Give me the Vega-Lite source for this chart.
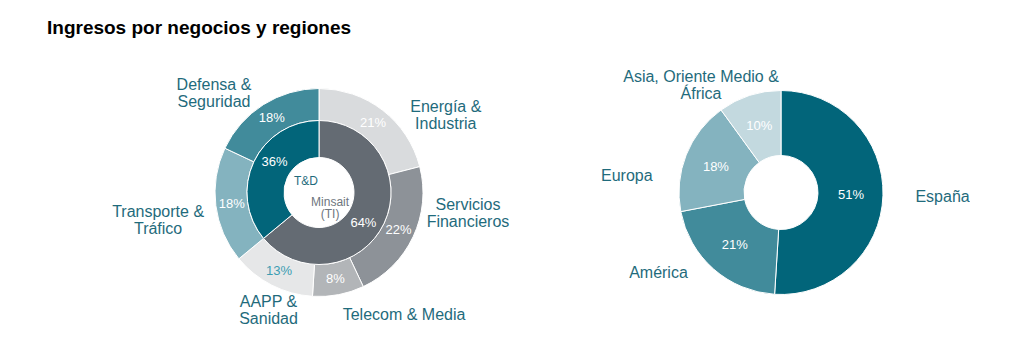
{
  "$schema": "https://vega.github.io/schema/vega-lite/v6.json",
  "padding": {"left": 0, "top": 19, "right": 0, "bottom": 0},
  "background": "white",
  "bounds": "flush",
  "title": {"text": "Ingresos por negocios y regiones", "anchor": "start", "dx": 47, "fontSize": 19, "fontWeight": "bold", "font": "Liberation Sans", "color": "#000000", "offset": 9},
  "config": {"view": {"stroke": null}, "font": "Liberation Sans"},
  "datasets": {
    "negocios": [
      {"cat": "Energía & Industria", "label": "Energía &\nIndustria", "value": 0.21, "orden": 1},
      {"cat": "Servicios Financieros", "label": "Servicios\nFinancieros", "value": 0.22, "orden": 2},
      {"cat": "Telecom & Media", "label": "Telecom & Media", "value": 0.08, "orden": 3},
      {"cat": "AAPP & Sanidad", "label": "AAPP &\nSanidad", "value": 0.13, "orden": 4},
      {"cat": "Transporte & Tráfico", "label": "Transporte &\nTráfico", "value": 0.18, "orden": 5},
      {"cat": "Defensa & Seguridad", "label": "Defensa &\nSeguridad", "value": 0.18, "orden": 6}
    ],
    "segmentos": [
      {"cat": "Minsait (TI)", "label": "Minsait\n(TI)", "value": 0.64, "orden": 1},
      {"cat": "T&D", "label": "T&D", "value": 0.36, "orden": 2}
    ],
    "regiones": [
      {"cat": "España", "label": "España", "value": 0.51, "orden": 1},
      {"cat": "América", "label": "América", "value": 0.21, "orden": 2},
      {"cat": "Europa", "label": "Europa", "value": 0.18, "orden": 3},
      {"cat": "Asia, Oriente Medio & África", "label": "Asia, Oriente Medio &\nÁfrica", "value": 0.10, "orden": 4}
    ]
  },
  "spacing": 0,
  "hconcat": [
    {
      "width": 638,
      "height": 291,
      "layer": [
        {
          "data": {"name": "negocios"},
          "mark": {"type": "arc", "outerRadius": 104, "innerRadius": 72, "stroke": "white", "strokeWidth": 1},
          "encoding": {
            "theta": {"field": "value", "type": "quantitative", "stack": true},
            "order": {"field": "orden", "type": "quantitative"},
            "color": {"field": "cat", "type": "nominal", "legend": null,
              "scale": {"domain": ["Energía & Industria","Servicios Financieros","Telecom & Media","AAPP & Sanidad","Transporte & Tráfico","Defensa & Seguridad","Minsait (TI)","T&D","España","América","Europa","Asia, Oriente Medio & África"],
                        "range": ["#D9DBDD","#8D9298","#B2B5B8","#E6E7E8","#84B3BF","#418B9B","#646B73","#02657A","#02657A","#418B9B","#84B3BF","#C3D9DF"]}}
          }
        },
        {
          "data": {"name": "segmentos"},
          "mark": {"type": "arc", "outerRadius": 72, "innerRadius": 35, "stroke": "white", "strokeWidth": 1},
          "encoding": {
            "theta": {"field": "value", "type": "quantitative", "stack": true},
            "order": {"field": "orden", "type": "quantitative"},
            "color": {"field": "cat", "type": "nominal", "legend": null,
              "scale": {"domain": ["Energía & Industria","Servicios Financieros","Telecom & Media","AAPP & Sanidad","Transporte & Tráfico","Defensa & Seguridad","Minsait (TI)","T&D","España","América","Europa","Asia, Oriente Medio & África"],
                        "range": ["#D9DBDD","#8D9298","#B2B5B8","#E6E7E8","#84B3BF","#418B9B","#646B73","#02657A","#02657A","#418B9B","#84B3BF","#C3D9DF"]}}
          }
        },
        {
          "data": {"name": "negocios"},
          "mark": {"type": "text", "radius": 88, "fontSize": 13, "align": "center", "baseline": "middle"},
          "encoding": {
            "theta": {"field": "value", "type": "quantitative", "stack": true},
            "order": {"field": "orden", "type": "quantitative"},
            "text": {"field": "value", "type": "quantitative", "format": ".0%"},
            "color": {"condition": {"test": "datum.cat === 'AAPP & Sanidad'", "value": "#3C9DB2"}, "value": "#FFFFFF"}
          }
        },
        {
          "data": {"name": "segmentos"},
          "mark": {"type": "text", "radius": 54, "thetaOffset": 0.165, "fontSize": 13, "align": "center", "baseline": "middle", "color": "#FFFFFF"},
          "encoding": {
            "theta": {"field": "value", "type": "quantitative", "stack": true},
            "order": {"field": "orden", "type": "quantitative"},
            "text": {"field": "value", "type": "quantitative", "format": ".0%"}
          }
        },
        {
          "data": {"name": "segmentos"},
          "mark": {"type": "text", "radius": 20, "dx": 5, "dy": -2.5, "fontSize": 12, "align": "center", "baseline": "middle", "color": "#1F6B7C"},
          "encoding": {
            "theta": {"field": "value", "type": "quantitative", "stack": true},
            "order": {"field": "orden", "type": "quantitative"},
            "text": {"condition": {"test": "datum.cat === 'T&D'", "field": "label", "type": "nominal"}, "value": ""}
          }
        },
        {
          "data": {"name": "segmentos"},
          "mark": {"type": "text", "radius": 20, "dx": -7, "dy": 1, "fontSize": 12, "lineBreak": "\n", "lineHeight": 11.5, "align": "center", "baseline": "middle", "color": "#6E767E"},
          "encoding": {
            "theta": {"field": "value", "type": "quantitative", "stack": true},
            "order": {"field": "orden", "type": "quantitative"},
            "text": {"condition": {"test": "datum.cat === 'Minsait (TI)'", "field": "label", "type": "nominal"}, "value": ""}
          }
        },
        {
          "data": {"name": "negocios"},
          "mark": {"type": "text", "radius": 140, "dx": 41, "dy": 25.5, "fontSize": 16, "lineBreak": "\n", "lineHeight": 17, "align": "center", "baseline": "middle", "color": "#1F6B7C"},
          "encoding": {
            "theta": {"field": "value", "type": "quantitative", "stack": true},
            "order": {"field": "orden", "type": "quantitative"},
            "text": {"condition": {"test": "datum.cat === 'Energía & Industria'", "field": "label", "type": "nominal"}, "value": ""}
          }
        },
        {
          "data": {"name": "negocios"},
          "mark": {"type": "text", "radius": 100, "dx": 58.5, "dy": -29.6, "fontSize": 16, "lineBreak": "\n", "lineHeight": 17, "align": "center", "baseline": "middle", "color": "#1F6B7C"},
          "encoding": {
            "theta": {"field": "value", "type": "quantitative", "stack": true},
            "order": {"field": "orden", "type": "quantitative"},
            "text": {"condition": {"test": "datum.cat === 'Servicios Financieros'", "field": "label", "type": "nominal"}, "value": ""}
          }
        },
        {
          "data": {"name": "negocios"},
          "mark": {"type": "text", "radius": 124, "dx": 61.8, "dy": 0.2, "fontSize": 16, "lineBreak": "\n", "lineHeight": 17, "align": "center", "baseline": "middle", "color": "#1F6B7C"},
          "encoding": {
            "theta": {"field": "value", "type": "quantitative", "stack": true},
            "order": {"field": "orden", "type": "quantitative"},
            "text": {"condition": {"test": "datum.cat === 'Telecom & Media'", "field": "label", "type": "nominal"}, "value": ""}
          }
        },
        {
          "data": {"name": "negocios"},
          "mark": {"type": "text", "radius": 120, "dx": 4, "dy": 2.6, "fontSize": 16, "lineBreak": "\n", "lineHeight": 17, "align": "center", "baseline": "middle", "color": "#1F6B7C"},
          "encoding": {
            "theta": {"field": "value", "type": "quantitative", "stack": true},
            "order": {"field": "orden", "type": "quantitative"},
            "text": {"condition": {"test": "datum.cat === 'AAPP & Sanidad'", "field": "label", "type": "nominal"}, "value": ""}
          }
        },
        {
          "data": {"name": "negocios"},
          "mark": {"type": "text", "radius": 140, "dx": -22, "dy": 1.5, "fontSize": 16, "lineBreak": "\n", "lineHeight": 17, "align": "center", "baseline": "middle", "color": "#1F6B7C"},
          "encoding": {
            "theta": {"field": "value", "type": "quantitative", "stack": true},
            "order": {"field": "orden", "type": "quantitative"},
            "text": {"condition": {"test": "datum.cat === 'Transporte & Tráfico'", "field": "label", "type": "nominal"}, "value": ""}
          }
        },
        {
          "data": {"name": "negocios"},
          "mark": {"type": "text", "radius": 140, "dx": -30, "dy": 11.2, "fontSize": 16, "lineBreak": "\n", "lineHeight": 17, "align": "center", "baseline": "middle", "color": "#1F6B7C"},
          "encoding": {
            "theta": {"field": "value", "type": "quantitative", "stack": true},
            "order": {"field": "orden", "type": "quantitative"},
            "text": {"condition": {"test": "datum.cat === 'Defensa & Seguridad'", "field": "label", "type": "nominal"}, "value": ""}
          }
        }
      ]
    },
    {
      "width": 286,
      "height": 291,
      "data": {"name": "regiones"},
      "layer": [
        {
          "mark": {"type": "arc", "outerRadius": 102, "innerRadius": 37, "stroke": "white", "strokeWidth": 1},
          "encoding": {
            "theta": {"field": "value", "type": "quantitative", "stack": true},
            "order": {"field": "orden", "type": "quantitative"},
            "color": {"field": "cat", "type": "nominal", "legend": null,
              "scale": {"domain": ["Energía & Industria","Servicios Financieros","Telecom & Media","AAPP & Sanidad","Transporte & Tráfico","Defensa & Seguridad","Minsait (TI)","T&D","España","América","Europa","Asia, Oriente Medio & África"],
                        "range": ["#D9DBDD","#8D9298","#B2B5B8","#E6E7E8","#84B3BF","#418B9B","#646B73","#02657A","#02657A","#418B9B","#84B3BF","#C3D9DF"]}}
          }
        },
        {
          "mark": {"type": "text", "radius": 70, "fontSize": 13, "align": "center", "baseline": "middle", "color": "#FFFFFF"},
          "encoding": {
            "theta": {"field": "value", "type": "quantitative", "stack": true},
            "order": {"field": "orden", "type": "quantitative"},
            "text": {"field": "value", "type": "quantitative", "format": ".0%"}
          }
        },
        {
          "mark": {"type": "text", "radius": 130, "dx": 31.6, "dy": 0.9, "fontSize": 16, "lineBreak": "\n", "lineHeight": 17, "align": "center", "baseline": "middle", "color": "#1F6B7C"},
          "encoding": {
            "theta": {"field": "value", "type": "quantitative", "stack": true},
            "order": {"field": "orden", "type": "quantitative"},
            "text": {"condition": {"test": "datum.cat === 'España'", "field": "label", "type": "nominal"}, "value": ""}
          }
        },
        {
          "mark": {"type": "text", "radius": 100, "dx": -56.4, "dy": 5, "fontSize": 16, "lineBreak": "\n", "lineHeight": 17, "align": "center", "baseline": "middle", "color": "#1F6B7C"},
          "encoding": {
            "theta": {"field": "value", "type": "quantitative", "stack": true},
            "order": {"field": "orden", "type": "quantitative"},
            "text": {"condition": {"test": "datum.cat === 'América'", "field": "label", "type": "nominal"}, "value": ""}
          }
        },
        {
          "mark": {"type": "text", "radius": 140, "dx": -24, "dy": 35.5, "fontSize": 16, "lineBreak": "\n", "lineHeight": 17, "align": "center", "baseline": "middle", "color": "#1F6B7C"},
          "encoding": {
            "theta": {"field": "value", "type": "quantitative", "stack": true},
            "order": {"field": "orden", "type": "quantitative"},
            "text": {"condition": {"test": "datum.cat === 'Europa'", "field": "label", "type": "nominal"}, "value": ""}
          }
        },
        {
          "mark": {"type": "text", "radius": 140, "dx": -36.7, "dy": 18.1, "fontSize": 16, "lineBreak": "\n", "lineHeight": 17, "align": "center", "baseline": "middle", "color": "#1F6B7C"},
          "encoding": {
            "theta": {"field": "value", "type": "quantitative", "stack": true},
            "order": {"field": "orden", "type": "quantitative"},
            "text": {"condition": {"test": "datum.cat === 'Asia, Oriente Medio & África'", "field": "label", "type": "nominal"}, "value": ""}
          }
        }
      ]
    }
  ]
}
